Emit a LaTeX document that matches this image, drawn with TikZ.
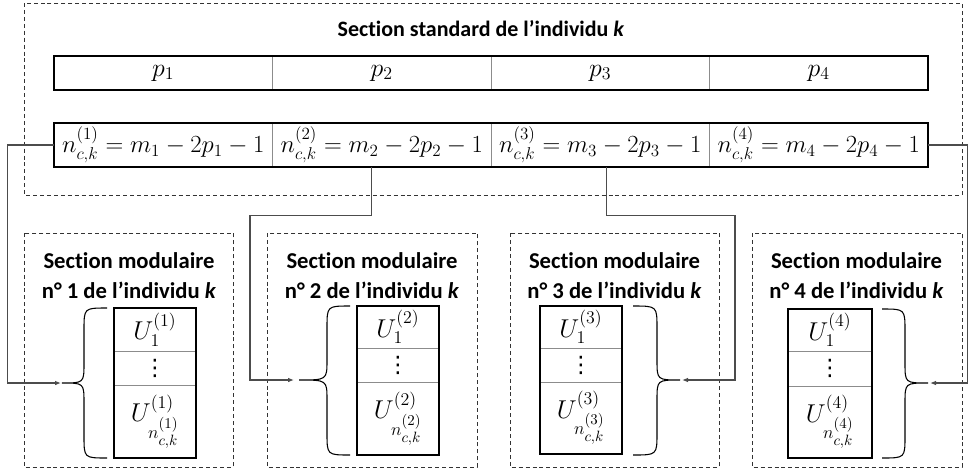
\documentclass[tikz,border=0pt]{standalone}
\usepackage[no-math]{fontspec}
\setmainfont{Carlito}[Ligatures=NoCommon]
\newfontfamily\dejavu{DejaVu Sans}
\usepackage{amsmath}
\usetikzlibrary{arrows.meta,calc}
\newcommand\mymth[1]{\scalebox{1.12}{$#1$}}
\newcommand\mymthn[1]{\scalebox{1.07}{$#1$}}
\newcommand\myvdots{{\dejavu\fontsize{17}{20}\selectfont ⋮}}
\begin{document}
\begin{tikzpicture}[x=0.75pt,y=-0.75pt,
  frame/.style={draw=black!80,line width=0.75pt,dash pattern=on 3pt off 2.2pt},
  cell/.style={draw=black!45,line width=0.6pt,inner sep=0pt,anchor=center,font=\fontsize{17.28}{20}\selectfont},
  pcell/.style={cell,minimum width=163.875pt,minimum height=25.5pt},
  ncell/.style={cell,minimum width=163.875pt,minimum height=33pt},
  ucell/.style={cell,minimum width=61.5pt},
  thickbox/.style={draw=black,line width=1.5pt},
  conn/.style={draw=black!70,line width=1pt},
  arr/.style={conn,-{Latex[length=4.5pt,width=3.5pt]}},
  brc/.style={draw=black,line width=0.8pt},
  ttl/.style={font=\fontsize{17}{22.5}\selectfont\bfseries,align=center,inner sep=0pt}]
\useasboundingbox (0,0) rectangle (968,472);

% dashed frames
\draw[frame] (24,3) rectangle (962,195);
\draw[frame] (24,233) rectangle (233,467);
\draw[frame] (267,233) rectangle (477,467);
\draw[frame] (510,233) rectangle (719,467);
\draw[frame] (752,233) rectangle (962,467);

% title
\node[ttl,font=\fontsize{16.5}{20}\selectfont\bfseries] (title) at (481,29) {Section standard de l’individu \textit{k}};

% p row
\node[pcell] (p1) at (163.25,73) {\mymth{p_1}};
\node[pcell] (p2) at (381.75,73) {\mymth{p_2}};
\node[pcell] (p3) at (600.25,73) {\mymth{p_3}};
\node[pcell] (p4) at (818.75,73) {\mymth{p_4}};
\draw[thickbox] (p1.north west) rectangle (p4.south east);

% n row
\node[ncell] (n1) at (163.25,145) {\mymthn{n_{c,k}^{(1)} = m_1 - 2p_1 - 1}};
\node[ncell] (n2) at (381.75,145) {\mymthn{n_{c,k}^{(2)} = m_2 - 2p_2 - 1}};
\node[ncell] (n3) at (600.25,145) {\mymthn{n_{c,k}^{(3)} = m_3 - 2p_3 - 1}};
\node[ncell] (n4) at (818.75,145) {\mymthn{n_{c,k}^{(4)} = m_4 - 2p_4 - 1}};
\draw[thickbox] (n1.north west) rectangle (n4.south east);

% modular titles
\node[ttl] (t1) at (129,276) {Section modulaire\\n° 1 de l’individu \textit{k}};
\node[ttl] (t2) at (372,276) {Section modulaire\\n° 2 de l’individu \textit{k}};
\node[ttl] (t3) at (614.5,276) {Section modulaire\\n° 3 de l’individu \textit{k}};
\node[ttl] (t4) at (856.5,276) {Section modulaire\\n° 4 de l’individu \textit{k}};

% U boxes
\node[ucell,minimum height=32.25pt] (u1a) at (155,329.5) {\mymth{U_1^{(1)}}};
\node[ucell,minimum height=25.5pt] (u1b) at (155,368) {\myvdots};
\node[ucell,minimum height=54.75pt] (u1c) at (155,421.5) {\mymth{U_{n_{c,k}^{(1)}}^{(1)}}};
\draw[thickbox] (u1a.north west) rectangle (u1c.south east);

\node[ucell,minimum height=31.5pt] (u2a) at (398,327) {\mymth{U_1^{(2)}}};
\node[ucell,minimum height=25.5pt] (u2b) at (398,365) {\myvdots};
\node[ucell,minimum height=54.75pt] (u2c) at (398,418.5) {\mymth{U_{n_{c,k}^{(2)}}^{(2)}}};
\draw[thickbox] (u2a.north west) rectangle (u2c.south east);

\node[ucell,minimum height=31.5pt] (u3a) at (581,327) {\mymth{U_1^{(3)}}};
\node[ucell,minimum height=25.5pt] (u3b) at (581,365) {\myvdots};
\node[ucell,minimum height=54pt] (u3c) at (581,418) {\mymth{U_{n_{c,k}^{(3)}}^{(3)}}};
\draw[thickbox] (u3a.north west) rectangle (u3c.south east);

\node[ucell,minimum width=63pt,minimum height=31.5pt] (u4a) at (830,330) {\mymth{U_1^{(4)}}};
\node[ucell,minimum width=63pt,minimum height=26.25pt] (u4b) at (830,368.5) {\myvdots};
\node[ucell,minimum width=63pt,minimum height=54pt] (u4c) at (830,422) {\mymth{U_{n_{c,k}^{(4)}}^{(4)}}};
\draw[thickbox] (u4a.north west) rectangle (u4c.south east);

% braces
\draw[brc] (107,308) .. controls (84,308) .. (84,330) -- (84,363) .. controls (84,383) .. (62,383) .. controls (84,383) .. (84,403) -- (84,436) .. controls (84,458) .. (107,458);
\draw[brc] (350,306) .. controls (327,306) .. (327,328) -- (327,360) .. controls (327,380) .. (299,380) .. controls (327,380) .. (327,400) -- (327,433) .. controls (327,455) .. (350,455);
\draw[brc] (633,306) .. controls (657,306) .. (657,328) -- (657,360) .. controls (657,380) .. (680,380) .. controls (657,380) .. (657,400) -- (657,433) .. controls (657,455) .. (633,455);
\draw[brc] (882,309) .. controls (905,309) .. (905,331) -- (905,363) .. controls (905,383) .. (928,383) .. controls (905,383) .. (905,403) -- (905,436) .. controls (905,458) .. (882,458);

% connectors
\coordinate (a1) at (61,383);
\coordinate (a2) at (294,380);
\coordinate (a3) at (682,380);
\coordinate (a4) at (930,383);
\draw[arr] (n1.west) -- ++(-46,0) |- (a1);
\draw[arr] ($(n2.south)+(-10,0)$) -- ++(0,48) -| ($(a2)+(-44,0)$) -- (a2);
\draw[arr] ($(n3.south)+(6,0)$) -- ++(0,48) -| ($(a3)+(53,0)$) -- (a3);
\draw[arr] (n4.east) -- ++(39,0) |- (a4);
\end{tikzpicture}
\end{document}
